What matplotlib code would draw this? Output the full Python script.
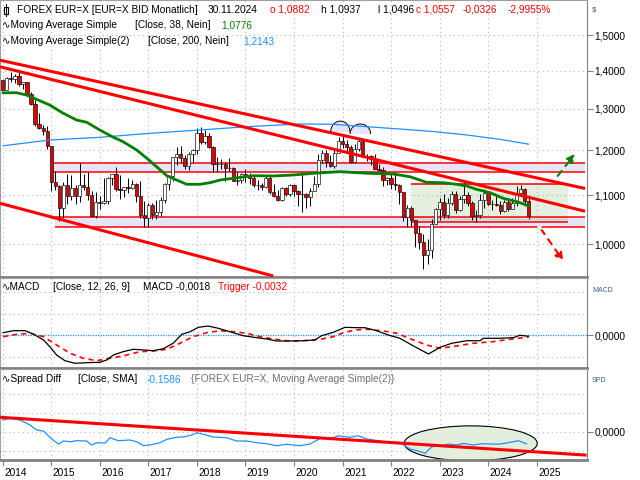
import numpy as np
import matplotlib
matplotlib.use("Agg")
import matplotlib.pyplot as plt
from matplotlib.patches import Rectangle, Ellipse, FancyArrowPatch
from matplotlib.lines import Line2D
from matplotlib.ticker import FixedLocator, NullLocator, FuncFormatter

plt.rcParams["font.family"] = ["Liberation Sans", "DejaVu Sans"]
FS = 7.3
W, H = 640, 480

# EUR/USD monthly candles, Jan 2014 .. Nov 2024 (open = previous close)
first_open = 1.3743
closes = [1.3486, 1.3802, 1.3769, 1.3870, 1.3635, 1.3692, 1.3390, 1.3132, 1.2631, 1.2525, 1.2452, 1.2098,
          1.1290, 1.1197, 1.0731, 1.1224, 1.0986, 1.1146, 1.0984, 1.1212, 1.1177, 1.1005, 1.0564, 1.0863,
          1.0831, 1.0873, 1.1380, 1.1452, 1.1131, 1.1105, 1.1174, 1.1157, 1.1240, 1.0981, 1.0588, 1.0517,
          1.0797, 1.0576, 1.0653, 1.0894, 1.1244, 1.1424, 1.1838, 1.1908, 1.1813, 1.1647, 1.1904, 1.2005,
          1.2414, 1.2193, 1.2324, 1.2079, 1.1693, 1.1684, 1.1690, 1.1599, 1.1604, 1.1313, 1.1318, 1.1466,
          1.1446, 1.1372, 1.1217, 1.1214, 1.1167, 1.1370, 1.1075, 1.0988, 1.0900, 1.1152, 1.1017, 1.1212,
          1.1093, 1.1027, 1.1031, 1.0954, 1.1098, 1.1234, 1.1778, 1.1936, 1.1721, 1.1646, 1.1927, 1.2216,
          1.2136, 1.2075, 1.1730, 1.2020, 1.2227, 1.1858, 1.1869, 1.1808, 1.1578, 1.1557, 1.1338, 1.1370,
          1.1235, 1.1218, 1.1066, 1.0545, 1.0733, 1.0484, 1.0222, 1.0053, 0.9802, 0.9884, 1.0404, 1.0705,
          1.0863, 1.0576, 1.0839, 1.1017, 1.0691, 1.0910, 1.0998, 1.0843, 1.0573, 1.0577, 1.0887, 1.1039,
          1.0818, 1.0805, 1.0790, 1.0666, 1.0848, 1.0713, 1.0826, 1.1047, 1.1135, 1.0884, 1.0557]
highs = [1.3775, 1.3825, 1.3967, 1.3907, 1.3993, 1.3700, 1.3700, 1.3444, 1.3221, 1.2887, 1.2601, 1.2570,
         1.2110, 1.1534, 1.1218, 1.1290, 1.1467, 1.1436, 1.1216, 1.1714, 1.1459, 1.1495, 1.1096, 1.1059,
         1.0986, 1.1376, 1.1396, 1.1464, 1.1616, 1.1428, 1.1185, 1.1366, 1.1328, 1.1258, 1.1300, 1.0874,
         1.0829, 1.0829, 1.0906, 1.0950, 1.1268, 1.1445, 1.1846, 1.2070, 1.2092, 1.1880, 1.1961, 1.2023,
         1.2537, 1.2556, 1.2476, 1.2414, 1.2097, 1.1852, 1.1791, 1.1734, 1.1815, 1.1625, 1.1500, 1.1486,
         1.1570, 1.1489, 1.1448, 1.1324, 1.1264, 1.1412, 1.1405, 1.1250, 1.1109, 1.1180, 1.1176, 1.1240,
         1.1239, 1.1100, 1.1496, 1.1040, 1.1147, 1.1422, 1.1909, 1.2011, 1.2011, 1.1881, 1.2003, 1.2310,
         1.2349, 1.2243, 1.2113, 1.2150, 1.2266, 1.2254, 1.1909, 1.1900, 1.1909, 1.1692, 1.1616, 1.1386,
         1.1483, 1.1495, 1.1236, 1.1076, 1.0787, 1.0773, 1.0487, 1.0368, 1.0198, 1.0094, 1.0497, 1.0736,
         1.0929, 1.1033, 1.0930, 1.1095, 1.1092, 1.0977, 1.1276, 1.1065, 1.0882, 1.0695, 1.1017, 1.1140,
         1.1046, 1.0898, 1.0981, 1.0885, 1.0895, 1.0916, 1.0948, 1.1202, 1.1214, 1.1144, 1.0937]
lows = [1.3477, 1.3478, 1.3705, 1.3672, 1.3585, 1.3503, 1.3367, 1.3105, 1.2571, 1.2500, 1.2358, 1.2035,
        1.1098, 1.1105, 1.0462, 1.0519, 1.0819, 1.0889, 1.0809, 1.0847, 1.1105, 1.0897, 1.0558, 1.0524,
        1.0711, 1.0810, 1.0822, 1.1217, 1.1098, 1.0912, 1.0952, 1.1046, 1.1123, 1.0853, 1.0518, 1.0340,
        1.0340, 1.0494, 1.0496, 1.0570, 1.0839, 1.1119, 1.1312, 1.1662, 1.1717, 1.1575, 1.1554, 1.1718,
        1.1916, 1.2153, 1.2154, 1.2055, 1.1510, 1.1508, 1.1576, 1.1301, 1.1526, 1.1302, 1.1216, 1.1269,
        1.1289, 1.1234, 1.1176, 1.1110, 1.1107, 1.1160, 1.1027, 1.0963, 1.0879, 1.0879, 1.0981, 1.0981,
        1.0992, 1.0778, 1.0636, 1.0727, 1.0767, 1.1095, 1.1185, 1.1711, 1.1612, 1.1622, 1.1603, 1.1925,
        1.2054, 1.1952, 1.1704, 1.1704, 1.1986, 1.1847, 1.1752, 1.1664, 1.1563, 1.1524, 1.1186, 1.1222,
        1.1121, 1.1106, 1.0806, 1.0471, 1.0349, 1.0359, 0.9952, 0.9901, 0.9536, 0.9632, 0.9730, 1.0393,
        1.0481, 1.0533, 1.0516, 1.0788, 1.0635, 1.0662, 1.0834, 1.0766, 1.0488, 1.0448, 1.0517, 1.0723,
        1.0796, 1.0695, 1.0767, 1.0601, 1.0650, 1.0668, 1.0709, 1.0777, 1.1001, 1.0761, 1.0496]

# Moving averages (year fraction, price)
ma38_t = [2014.01, 2014.29, 2014.49, 2014.70, 2014.97, 2015.25, 2015.52, 2015.73, 2016.00, 2016.28,
          2016.48, 2016.76, 2016.97, 2017.17, 2017.38, 2017.58, 2017.79, 2018.06, 2018.27, 2018.48,
          2018.75, 2019.16, 2019.57, 2019.99, 2020.40, 2020.95, 2021.50, 2022.05, 2022.39, 2022.73,
          2023.08, 2023.35, 2023.56, 2023.76, 2024.04, 2024.31, 2024.59, 2024.83]
ma38_v = [1.3414, 1.3414, 1.3354, 1.3243, 1.3098, 1.2890, 1.2724, 1.2668, 1.2480, 1.2304,
          1.2200, 1.2005, 1.1813, 1.1622, 1.1422, 1.1328, 1.1233, 1.1233, 1.1268, 1.1328,
          1.1365, 1.1422, 1.1416, 1.1438, 1.1476, 1.1511, 1.1476, 1.1460, 1.1399, 1.1276,
          1.1268, 1.1233, 1.1196, 1.1124, 1.1052, 1.0932, 1.0861, 1.0776]
ma200_t = [2014.01, 2014.97, 2016.00, 2017.03, 2018.06, 2019.09, 2020.12, 2020.80, 2021.50,
           2022.18, 2022.86, 2023.56, 2024.24, 2024.83]
ma200_v = [1.2105, 1.2240, 1.2304, 1.2400, 1.2480, 1.2565, 1.2626, 1.2619, 1.2560,
           1.2504, 1.2444, 1.2360, 1.2256, 1.2143]

# MACD (12, 26, 9) and trigger
macd_t = [2014.01, 2014.22, 2014.46, 2014.63, 2014.84, 2014.97, 2015.11, 2015.28, 2015.49, 2015.73,
          2016.00, 2016.14, 2016.28, 2016.48, 2016.69, 2016.90, 2017.10, 2017.31, 2017.51, 2017.69,
          2017.86, 2018.03, 2018.23, 2018.44, 2018.68, 2018.95, 2019.23, 2019.44, 2019.64, 2019.92,
          2020.19, 2020.43, 2020.57, 2020.81, 2021.05, 2021.29, 2021.46, 2021.70, 2021.94, 2022.18,
          2022.46, 2022.77, 2023.01, 2023.25, 2023.56, 2023.83, 2023.90, 2024.24, 2024.52, 2024.65, 2024.83]
macd_v = [0.0048, 0.0085, 0.0085, 0.0024, -0.0087, -0.0210, -0.0363, -0.0468, -0.0516, -0.0505,
          -0.0498, -0.0455, -0.0363, -0.0302, -0.0258, -0.0271, -0.0284, -0.0247, -0.0147, 0.0018,
          0.0066, 0.0147, 0.0171, 0.0129, 0.0066, -0.0007, -0.0044, -0.0068, -0.0105, -0.0105,
          -0.0100, -0.0087, -0.0007, 0.0055, 0.0147, 0.0140, 0.0140, 0.0085, 0.0006, -0.0055,
          -0.0197, -0.0345, -0.0221, -0.0147, -0.0100, -0.0100, -0.0055, -0.0055, -0.0044, 0.0000, -0.0018]
trig_t = [2014.01, 2014.29, 2014.56, 2014.84, 2015.11, 2015.39, 2015.66, 2015.94, 2016.21, 2016.48,
          2016.83, 2017.10, 2017.38, 2017.65, 2017.92, 2018.20, 2018.48, 2018.75, 2019.03, 2019.30,
          2019.57, 2019.85, 2020.12, 2020.54, 2020.81, 2021.02, 2021.26, 2021.50, 2021.84, 2022.12,
          2022.46, 2022.73, 2023.01, 2023.35, 2023.69, 2024.10, 2024.45, 2024.83]
trig_v = [-0.0026, 0.0018, 0.0037, -0.0026, -0.0179, -0.0332, -0.0424, -0.0468, -0.0424, -0.0381,
          -0.0302, -0.0289, -0.0258, -0.0147, -0.0026, 0.0048, 0.0085, 0.0066, 0.0037, -0.0026,
          -0.0068, -0.0100, -0.0105, -0.0074, -0.0026, 0.0048, 0.0098, 0.0111, 0.0079, 0.0037,
          -0.0087, -0.0179, -0.0240, -0.0197, -0.0147, -0.0118, -0.0074, -0.0032]

# Spread Diff (close minus SMA 200)
spread_t = [2014.00, 2014.15, 2014.36, 2014.56, 2014.70, 2014.84, 2015.01, 2015.15, 2015.25, 2015.39,
            2015.52, 2015.73, 2015.83, 2015.94, 2016.11, 2016.21, 2016.38, 2016.62, 2016.76, 2016.90,
            2017.10, 2017.24, 2017.38, 2017.58, 2017.75, 2017.89, 2018.00, 2018.13, 2018.34, 2018.61,
            2018.82, 2019.03, 2019.23, 2019.44, 2019.64, 2019.85, 2020.12, 2020.33, 2020.54, 2020.74,
            2020.91, 2021.15, 2021.32, 2021.50, 2021.77, 2022.05, 2022.22, 2022.39, 2022.56, 2022.70,
            2022.84, 2023.01, 2023.18, 2023.35, 2023.49, 2023.69, 2023.87, 2024.04, 2024.24, 2024.41,
            2024.62, 2024.79]
spread_v = [0.154, 0.176, 0.154, 0.088, 0.022, 0.009, -0.096, -0.162, -0.122, -0.132,
            -0.118, -0.122, -0.175, -0.145, -0.149, -0.079, -0.118, -0.109, -0.132, -0.184,
            -0.166, -0.145, -0.100, -0.074, -0.066, -0.043, -0.013, -0.034, -0.070, -0.079,
            -0.122, -0.122, -0.145, -0.158, -0.184, -0.166, -0.184, -0.162, -0.087, -0.096,
            -0.053, -0.074, -0.053, -0.096, -0.122, -0.145, -0.158, -0.228, -0.254, -0.284,
            -0.197, -0.188, -0.162, -0.175, -0.153, -0.175, -0.158, -0.162, -0.162, -0.145,
            -0.118, -0.159]

# drawings on the chart
trend_a = [(2013.944, 2025.994), (1.4288, 1.1143)]
trend_b = [(2013.944, 2025.994), (1.4107, 1.0662)]
trend_c = [(2013.944, 2019.574), (1.0827, 0.9404)]
zone_high = (2015.01, 2025.99, 1.1496, 1.1699)
zone_low = (2015.08, 2025.99, 1.0335, 1.0537)
range_box = (2022.41, 2025.65, 1.0436, 1.1233)
tops = [(2020.954, 1.2433, 0.3975, 0.0528), (2021.366, 1.2384, 0.426, 0.0484)]
arrow_up = ((2025.397, 1.1370), (2025.823, 1.1966))
arrow_down = ((2025.053, 1.0347), (2025.582, 0.9639))
spread_trend = [(2013.944, 2025.994), (0.19, -0.307)]
spread_oval = (2023.64, -0.153, 2.74, 0.46)

years = list(range(2014, 2026))
XL = (2013.944, 2026.035)
RED = "#ff0000"
BLUE = "#1e90ff"
GRID = "#b8b8b8"
LAV = "#e4e4fa"


def comma(v, _=None):
    return f"{v:.4f}".replace(".", ",")


fig = plt.figure(figsize=(6.4, 4.8), dpi=100)
ax1 = fig.add_axes([0.0, 203 / H, 587 / W, 277 / H])
ax2 = fig.add_axes([0.0, 112 / H, 587 / W, 90 / H])
ax3 = fig.add_axes([0.0, 20 / H, 587 / W, 91 / H])

for ax in (ax1, ax2, ax3):
    ax.set_xlim(*XL)
    ax.set_xticks(years)
    ax.tick_params(axis="x", length=0, labelbottom=False)
    ax.xaxis.grid(True, color=GRID, linestyle=(0, (1, 3)), lw=0.8)
    ax.yaxis.tick_right()
    ax.tick_params(axis="y", length=4, color="#808080", labelsize=FS, pad=1.5)
    ax.spines["left"].set_color("#a0a0a0")
    ax.spines["right"].set_color("#808080")
    ax.spines["top"].set_color("#a0a0a0")
    ax.spines["bottom"].set_color("#808080")
    ax.spines["bottom"].set_linewidth(2)
    ax.set_axisbelow(True)

# ---- price panel ----
ax1.set_yscale("log")
ax1.set_ylim(0.9386, 1.6056)
ax1.yaxis.set_major_locator(FixedLocator([1.0, 1.1, 1.2, 1.3, 1.4, 1.5]))
ax1.yaxis.set_minor_locator(NullLocator())
ax1.yaxis.set_major_formatter(FuncFormatter(comma))
ax1.yaxis.grid(True, color=GRID, linestyle=(0, (1, 3)), lw=0.8)

c = np.array(closes)
o = np.array([first_open] + closes[:-1])
t = np.array([2014 + i / 12 for i in range(len(closes))])

x0, x1, y0, y1 = zone_high
ax1.add_patch(Rectangle((x0, y0), x1 - x0, y1 - y0, fc=LAV, ec="none", zorder=1))
ax1.hlines([y0, y1], x0, x1, color=RED, lw=1.1, zorder=2)
x0, x1, y0, y1 = zone_low
ax1.add_patch(Rectangle((x0, y0), x1 - x0, y1 - y0, fc=LAV, ec="none", zorder=1))
ax1.hlines([y0, y1], x0, x1, color=RED, lw=1.1, zorder=2)
x0, x1, y0, y1 = range_box
ax1.add_patch(Rectangle((x0, y0), x1 - x0, y1 - y0, fc="#7fb060", alpha=0.2, ec="none", zorder=1.5))
ax1.hlines([y0, y1], x0, x1, color=RED, lw=1.1, zorder=2)

for tc, pc, w, h in tops:
    e = Ellipse((tc, pc), w, h, fc=LAV, ec="black", lw=0.7, zorder=1.8)
    ax1.add_patch(e)
    e.set_clip_path(Rectangle((tc - w, pc), 2 * w, h, transform=ax1.transData))

ax1.vlines(t, lows, highs, color="black", lw=0.7, zorder=3)
body_col = ["#e00000" if cc < oo else "white" for cc, oo in zip(c, o)]
ax1.bar(t, np.abs(c - o), bottom=np.minimum(o, c), width=0.068, color=body_col,
        edgecolor="black", linewidth=0.45, zorder=4)

ax1.plot(ma200_t, ma200_v, color=BLUE, lw=0.9, zorder=5)
ax1.plot(ma38_t, ma38_v, color="#008000", lw=2.0, zorder=5)
for xs, ys in (trend_a, trend_b, trend_c):
    ax1.plot(xs, ys, color=RED, lw=2.2, zorder=6, solid_capstyle="butt")

(ax_, ay_), (bx_, by_) = arrow_up
ax1.add_patch(FancyArrowPatch((ax_, ay_), (bx_, by_), arrowstyle="-|>", mutation_scale=12,
                              color="#008000", lw=1.5, linestyle=(0, (3, 3)), zorder=6))
(ax_, ay_), (bx_, by_) = arrow_down
ax1.add_patch(FancyArrowPatch((ax_, ay_), (bx_, by_), arrowstyle="-|>", mutation_scale=12,
                              color=RED, lw=1.5, linestyle=(0, (3, 3)), zorder=6))
ax1.plot([ax_], [ay_], "s", ms=3, mfc="#fffff0", mec="#d8d8c8", mew=0.5, zorder=7)

# ---- MACD panel ----
ax2.set_ylim(-0.0603, 0.1056)
ax2.set_yticks([0.0])
ax2.yaxis.set_major_formatter(FuncFormatter(comma))
for g in (-0.04, 0.04, 0.08):
    ax2.axhline(g, color=GRID, linestyle=(0, (1, 3)), lw=0.8, zorder=0)
ax2.axhline(0.0, color=BLUE, linestyle=(0, (1, 1)), lw=0.9, zorder=1)
ax2.plot(trig_t, trig_v, color=RED, lw=1.2, linestyle=(0, (3, 2.5)), zorder=3)
ax2.plot(macd_t, macd_v, color="black", lw=0.9, zorder=4)

# ---- Spread panel ----
ax3.set_ylim(-0.372, 0.825)
ax3.set_yticks([0.0])
ax3.yaxis.set_major_formatter(FuncFormatter(comma))
for g in (-0.25, 0.0, 0.25, 0.5):
    ax3.axhline(g, color=GRID, linestyle=(0, (1, 3)), lw=0.8, zorder=0)
cx, cy, cw, ch = spread_oval
ax3.add_patch(Ellipse((cx, cy), cw, ch, fc="#e4eedc", ec="black", lw=0.8, zorder=1))
ax3.plot(spread_t, spread_v, color=BLUE, lw=0.9, zorder=3)
ax3.plot(*spread_trend, color=RED, lw=2.2, zorder=4)
ax3.tick_params(axis="x", length=4, color="#808080")
for yr in years:
    ax3.text(yr + 0.03, -0.14, str(yr), transform=ax3.get_xaxis_transform(),
             ha="left", va="center", fontsize=FS)


# ---- legend texts ----
def put(x, y, s, color="black", size=FS):
    fig.text(x / W, 1 - y / H, s, color=color, fontsize=size, ha="left", va="center")


fig.add_artist(Line2D([6 / W, 6 / W], [1 - 4 / H, 1 - 16 / H], color="black", lw=0.8))
fig.add_artist(Rectangle((4 / W, 1 - 13.5 / H), 4 / W, 6.5 / H, fc="white", ec="black", lw=0.8))
put(16.7, 10, "FOREX EUR=X [EUR=X BID Monatlich]")
put(207.3, 10, "30.11.2024")
put(270, 10, "o 1,0882", RED)
put(320.7, 10, "h 1,0937")
put(377.5, 10, "l 1,0496")
put(416, 10, "c 1,0557", RED)
put(463, 10, "-0,0326", RED)
put(507.3, 10, "-2,9955%", RED)

put(2, 25.5, "∿Moving Average Simple")
put(135, 25.5, "[Close, 38, Nein]")
put(221.7, 25.5, "1,0776", "#008000")
put(2, 41, "∿Moving Average Simple(2)")
put(148.3, 41, "[Close, 200, Nein]")
put(243.3, 41, "1,2143", BLUE)

put(2, 286.7, "∿MACD")
put(53.3, 286.7, "[Close, 12, 26, 9]")
put(143.3, 286.7, "MACD -0,0018")
put(218.3, 286.7, "Trigger -0,0032", RED)

put(2, 379, "∿Spread Diff")
put(77.7, 379, "[Close, SMA]")
put(146.7, 379, "-0,1586", BLUE)
put(190.7, 379, "{FOREX EUR=X, Moving Average Simple(2)}", "#707070")

put(592, 10, "$", "#3a5a8c", 5.5)
put(592, 290, "MACD", "#3a5a8c", 5)
put(592, 380, "SPD", "#3a5a8c", 5)

fig.savefig("out.png", dpi=100)
